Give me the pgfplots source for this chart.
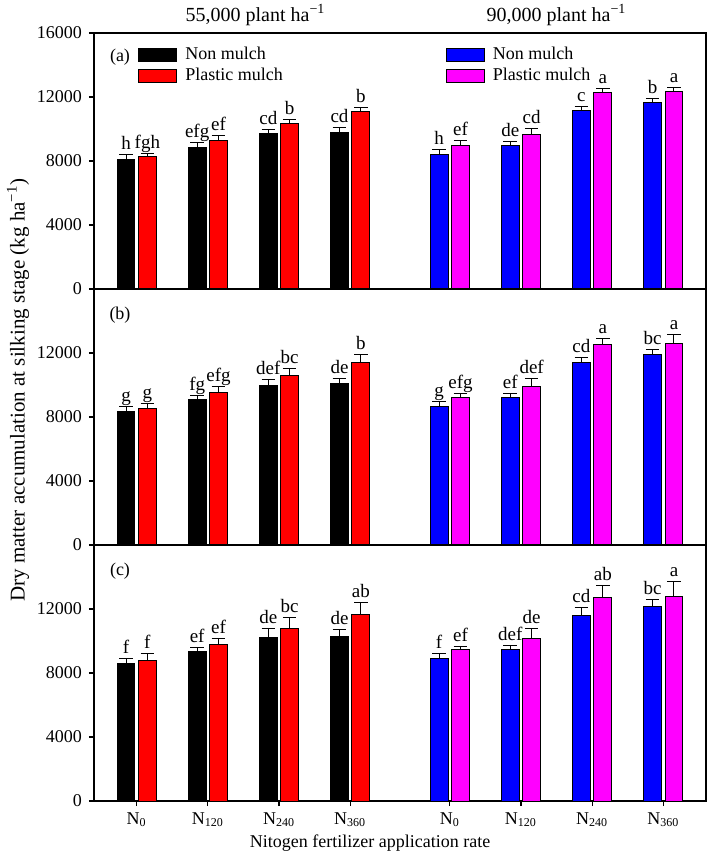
\documentclass[border=0pt]{standalone}
\usepackage{pgfplots}
\pgfplotsset{compat=1.18}
\usepackage{fontspec}
\setmainfont{Liberation Serif}
\definecolor{cblk}{HTML}{000000}
\definecolor{cred}{HTML}{FF0000}
\definecolor{cblu}{HTML}{0000FF}
\definecolor{cmag}{HTML}{FF00FF}
\newcommand\fs{\fontsize{9}{10}\selectfont}
\pgfplotsset{
  panel/.style={
    scale only axis, width=306pt, height=128pt,
    xmin=0.4, xmax=9.0, ymin=0, ymax=16000,
    axis line style={line width=0.6pt},
    ytick={0,4000,8000,12000,16000},
    scaled y ticks=false,
    ytick pos=left, xtick pos=bottom, tick align=outside, major tick length=2.5pt,
    xtick=\empty,
    tick style={line width=0.6pt,black},
    yticklabel style={font=\fs},
    /pgf/number format/1000 sep={},
    /pgf/number format/assume math mode=true,
    clip=false,
  },
  % bars are placed at their own x (group centre -/+ 0.15)
  bars/.style={ybar, bar width=0.25, bar shift=0, draw=black, line width=0.5pt, fill=#1,
    legend image code/.code={\draw[fill=#1,draw=black,line width=0.5pt] (0pt,-3.3pt) rectangle (19pt,3.3pt);},
    nodes near coords, point meta=explicit symbolic,
    visualization depends on={value \thisrow{e}\as\err},
    every node near coord/.append style={anchor=base, yshift={0.008pt*\err+2.5pt}, font=\fontsize{9.5}{10}\selectfont, text=black},
    error bars/y dir=plus, error bars/y explicit,
    error bars/error bar style={black,line width=0.5pt},
    error bars/error mark=-,
    error bars/error mark options={rotate=90,black,line width=0.5pt,mark size=3.4pt},
  },
}
\begin{document}
\begin{tikzpicture}
% panel (c)
\begin{axis}[panel, at={(0,0)}, anchor=south west,
  ytick={0,4000,8000,12000},
  xtick={1,2,3,4,5.4,6.4,7.4,8.4},
  xticklabels={N\textsubscript{0},N\textsubscript{120},N\textsubscript{240},N\textsubscript{360},N\textsubscript{0},N\textsubscript{120},N\textsubscript{240},N\textsubscript{360}},
  xticklabel style={font=\fs}]
\addplot[bars=cblk] table[x=x,y=y,y error=e,meta=l] {
x y e l
0.85 8600 310 f
1.85 9330 270 ef
2.85 10210 560 de
3.85 10310 420 de
};
\addplot[bars=cred] table[x=x,y=y,y error=e,meta=l] {
x y e l
1.15 8770 460 f
2.15 9810 350 ef
3.15 10810 690 bc
4.15 11630 750 ab
};
\addplot[bars=cblu] table[x=x,y=y,y error=e,meta=l] {
x y e l
5.25 8920 270 f
6.25 9460 290 def
7.25 11600 480 cd
8.25 12150 460 bc
};
\addplot[bars=cmag] table[x=x,y=y,y error=e,meta=l] {
x y e l
5.55 9460 190 ef
6.55 10170 600 de
7.55 12750 710 ab
8.55 12810 880 a
};
\node[font=\fs] at (rel axis cs:0,1) [xshift=13pt,yshift=-13pt] {(c)};
\node[font=\fs] at (axis cs:4.28,0) [yshift=-21pt] {Nitogen fertilizer application rate};
\end{axis}
% panel (b)
\begin{axis}[panel, at={(0,128pt)}, anchor=south west, ytick={0,4000,8000,12000}]
\addplot[bars=cblk] table[x=x,y=y,y error=e,meta=l] {
x y e l
0.85 8330 310 g
1.85 9080 290 fg
2.85 9940 420 def
3.85 10080 310 de
};
\addplot[bars=cred] table[x=x,y=y,y error=e,meta=l] {
x y e l
1.15 8540 330 g
2.15 9560 330 efg
3.15 10580 440 bc
4.15 11400 500 b
};
\addplot[bars=cblu] table[x=x,y=y,y error=e,meta=l] {
x y e l
5.25 8670 270 g
6.25 9210 250 ef
7.25 11400 330 cd
8.25 11900 330 bc
};
\addplot[bars=cmag] table[x=x,y=y,y error=e,meta=l] {
x y e l
5.55 9210 250 efg
6.55 9920 460 def
7.55 12520 400 a
8.55 12600 560 a
};
\node[font=\fs] at (rel axis cs:0,1) [xshift=13pt,yshift=-13pt] {(b)};
\node[rotate=90,font=\fontsize{10.5}{11}\selectfont] at ([xshift=-38pt]rel axis cs:0,0.605) {Dry matter accumulation at silking stage (kg ha\textsuperscript{−1})};
\end{axis}
% panel (a)
\begin{axis}[panel, at={(0,256pt)}, anchor=south west,
  legend columns=2, transpose legend, legend cell align=left,
  legend style={draw=none, fill=none, at={(rel axis cs:0,1)}, anchor=north west,
    xshift=19pt, yshift=-3pt, font=\fs, row sep=-1.2pt,
    /tikz/every odd column/.append style={column sep=2pt},
    /tikz/every even column/.append style={column sep=79.5pt}}]
\addplot[bars=cblk] table[x=x,y=y,y error=e,meta=l] {
x y e l
0.85 8100 310 h
1.85 8830 340 efg
2.85 9690 290 cd
3.85 9810 310 cd
};
\addlegendentry{Non mulch}
\addplot[bars=cred] table[x=x,y=y,y error=e,meta=l] {
x y e l
1.15 8270 210 fgh
2.15 9310 290 ef
3.15 10330 290 b
4.15 11100 230 b
};
\addlegendentry{Plastic mulch}
\addplot[bars=cblu] table[x=x,y=y,y error=e,meta=l] {
x y e l
5.25 8420 290 h
6.25 8960 250 de
7.25 11130 250 c
8.25 11630 270 b
};
\addlegendentry{Non mulch}
\addplot[bars=cmag] table[x=x,y=y,y error=e,meta=l] {
x y e l
5.55 8960 310 ef
6.55 9650 350 cd
7.55 12250 270 a
8.55 12330 270 a
};
\addlegendentry{Plastic mulch}
\node[font=\fs] at (rel axis cs:0,1) [xshift=13pt,yshift=-12pt] {(a)};
\node[font=\fontsize{10}{11}\selectfont] at (axis cs:2.67,16000) [yshift=9pt] {55,000 plant ha\textsuperscript{−1}};
\node[font=\fontsize{10}{11}\selectfont] at (axis cs:6.9,16000) [yshift=9pt] {90,000 plant ha\textsuperscript{−1}};
\end{axis}
\pgfresetboundingbox
\useasboundingbox (-47pt,-27.5pt) rectangle (307.5pt,400.5pt);
\end{tikzpicture}
\end{document}
